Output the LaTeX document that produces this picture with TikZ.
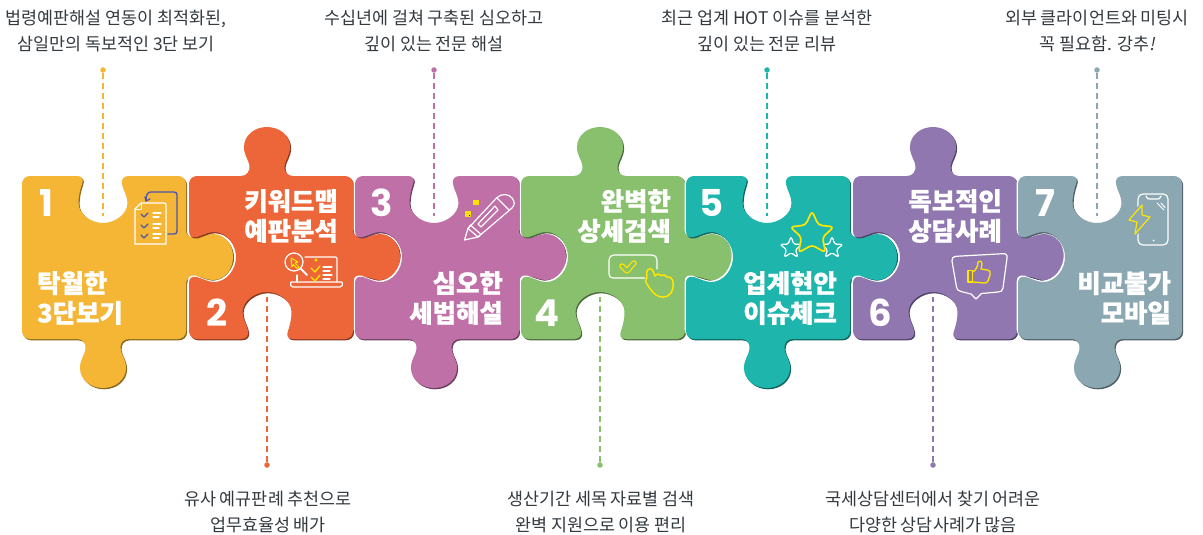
\documentclass[tikz,border=0pt]{standalone}
\usepackage{fontspec}
\setmainfont{Noto Sans CJK KR}
\newfontfamily\capfont{Noto Sans CJK KR}
\newfontfamily\capslant{Noto Sans CJK KR}[FakeSlant=0.2]
\newfontfamily\headfont{Noto Sans CJK KR}[BoldFeatures={FakeBold=0.9}]
\newfontfamily\numfont{Poppins}
\definecolor{c1}{HTML}{F5B535}\definecolor{s1}{HTML}{8A6A20}
\definecolor{c2}{HTML}{EC6639}\definecolor{s2}{HTML}{8A3A20}
\definecolor{c3}{HTML}{BF70A7}\definecolor{s3}{HTML}{6B3F60}
\definecolor{c4}{HTML}{88C06E}\definecolor{s4}{HTML}{4D6B3E}
\definecolor{c5}{HTML}{1DB5AC}\definecolor{s5}{HTML}{0F665F}
\definecolor{c6}{HTML}{9077B0}\definecolor{s6}{HTML}{50436B}
\definecolor{c7}{HTML}{8BA7B1}\definecolor{s7}{HTML}{4F5F66}
\definecolor{docblue}{HTML}{4F55A8}
\definecolor{icony}{HTML}{FFE600}
\definecolor{captxt}{HTML}{333A40}
\def\pzW{164}\def\pzH{163}\def\cy{81}
% fragments: clockwise outline
\def\TopNotch{-- ({\cx-26},0) .. controls ({\cx-21},0) and ({\cx-19},3) .. ({\cx-21},8) .. controls ({\cx-23},14) and ({\cx-24.5},20) .. ({\cx-24.5},27) .. controls ({\cx-24.5},38) and ({\cx-12},47) .. ({\cx},47) .. controls ({\cx+12},47) and ({\cx+24.5},38) .. ({\cx+24.5},27) .. controls ({\cx+24.5},20) and ({\cx+20},14) .. ({\cx+19},8) .. controls ({\cx+18},3) and ({\cx+21},0) .. ({\cx+26},0)}
\def\TopTab{-- ({\cx-26},0) .. controls ({\cx-20},0) and ({\cx-17},-5) .. ({\cx-17.5},-10) .. controls ({\cx-18},-16) and ({\cx-23},-20) .. ({\cx-23},-29) .. controls ({\cx-23},-41) and ({\cx-12},-49) .. ({\cx},-49) .. controls ({\cx+12},-49) and ({\cx+23},-41) .. ({\cx+23},-29) .. controls ({\cx+23},-20) and ({\cx+18},-16) .. ({\cx+17.5},-10) .. controls ({\cx+17},-5) and ({\cx+20},0) .. ({\cx+26},0)}
\def\RightTab{-- (\pzW,{\cy-26}) .. controls (\pzW,{\cy-22}) and ({\pzW+4},{\cy-19}) .. ({\pzW+11},{\cy-19.5}) .. controls ({\pzW+17},{\cy-20}) and ({\pzW+21},{\cy-23}) .. ({\pzW+27},{\cy-23}) .. controls ({\pzW+39},{\cy-23}) and ({\pzW+47},{\cy-12}) .. ({\pzW+47},{\cy}) .. controls ({\pzW+47},{\cy+12}) and ({\pzW+39},{\cy+23}) .. ({\pzW+27},{\cy+23}) .. controls ({\pzW+21},{\cy+23}) and ({\pzW+17},{\cy+20}) .. ({\pzW+11},{\cy+19.5}) .. controls ({\pzW+4},{\cy+19}) and (\pzW,{\cy+22}) .. (\pzW,{\cy+26})}
\def\RightFlat{}
\def\BotTab{-- ({\cx+26},\pzH) .. controls ({\cx+20},\pzH) and ({\cx+17},{\pzH+4}) .. ({\cx+17.5},{\pzH+10}) .. controls ({\cx+18},{\pzH+16}) and ({\cx+23},{\pzH+20}) .. ({\cx+23},{\pzH+29}) .. controls ({\cx+23},{\pzH+41}) and ({\cx+12},{\pzH+49}) .. ({\cx},{\pzH+49}) .. controls ({\cx-12},{\pzH+49}) and ({\cx-23},{\pzH+41}) .. ({\cx-23},{\pzH+29}) .. controls ({\cx-23},{\pzH+20}) and ({\cx-18},{\pzH+16}) .. ({\cx-17.5},{\pzH+10}) .. controls ({\cx-17},{\pzH+4}) and ({\cx-20},\pzH) .. ({\cx-26},\pzH)}
\def\BotNotch{-- ({\cx+26},\pzH) .. controls ({\cx+21},\pzH) and ({\cx+19},{\pzH-3}) .. ({\cx+21},{\pzH-8}) .. controls ({\cx+23},{\pzH-14}) and ({\cx+24.5},{\pzH-20}) .. ({\cx+24.5},{\pzH-27}) .. controls ({\cx+24.5},{\pzH-38}) and ({\cx+12},{\pzH-47}) .. ({\cx},{\pzH-47}) .. controls ({\cx-12},{\pzH-47}) and ({\cx-24.5},{\pzH-38}) .. ({\cx-24.5},{\pzH-27}) .. controls ({\cx-24.5},{\pzH-20}) and ({\cx-20},{\pzH-14}) .. ({\cx-19},{\pzH-8}) .. controls ({\cx-18},{\pzH-3}) and ({\cx-21},\pzH) .. ({\cx-26},\pzH)}
\def\LeftNotch{-- (0,{\cy+26}) .. controls (0,{\cy+21}) and (3,{\cy+19}) .. (8,{\cy+20}) .. controls (14,{\cy+22}) and (20,{\cy+25}) .. (25,{\cy+25}) .. controls (38,{\cy+25}) and (47,{\cy+12}) .. (47,{\cy}) .. controls (47,{\cy-12}) and (38,{\cy-25}) .. (25,{\cy-25}) .. controls (20,{\cy-25}) and (14,{\cy-22}) .. (8,{\cy-20}) .. controls (3,{\cy-19}) and (0,{\cy-21}) .. (0,{\cy-26})}
\def\LeftFlat{}
\def\PzOutline#1#2#3#4{(8,0) #1 -- ({\pzW-8},0) .. controls ({\pzW-3.5},0) and (\pzW,3.5) .. (\pzW,8) #2 -- (\pzW,{\pzH-8}) .. controls (\pzW,{\pzH-3.5}) and ({\pzW-3.5},\pzH) .. ({\pzW-8},\pzH) #3 -- (8,\pzH) .. controls (3.5,\pzH) and (0,{\pzH-3.5}) .. (0,{\pzH-8}) #4 -- (0,8) .. controls (0,3.5) and (3.5,0) .. (8,0) -- cycle}
% \Piece{x0}{cx}{index}{top}{right}{bottom}{left}
\newcommand\Piece[7]{%
  \begin{scope}[shift={(#1,176)}]
    \def\cx{#2}%
    \fill[white,xshift=-1.3pt,yshift=1.3pt] \PzOutline{#4}{#5}{#6}{#7};
    \fill[s#3,xshift=1.1pt,yshift=-1.3pt] \PzOutline{#4}{#5}{#6}{#7};
    \fill[c#3] \PzOutline{#4}{#5}{#6}{#7};
  \end{scope}}
\tikzset{
  captext/.style={font=\capfont\fontsize{17.4}{25.4}\selectfont,text=captxt,align=center,inner sep=0pt},
  headtext/.style={font=\headfont\bfseries\fontsize{25.4}{29.8}\selectfont,text=white,inner sep=0pt},
  numtext/.style={font=\numfont\bfseries\fontsize{37}{37}\selectfont,text=white,inner sep=0pt},
  pindot/.style={circle,inner sep=0pt,minimum size=5.5pt},
  leader/.style={line width=1.1pt,dash pattern=on 6pt off 4pt},
  iconw/.style={draw=white,line width=1.2pt,line join=round,line cap=round},
  icony/.style={draw=icony,line width=1.3pt,line join=round,line cap=round},
}
\begin{document}
\begin{tikzpicture}[x=1pt,y=-1pt]
\useasboundingbox (0,0) rectangle (1203,535);
\fill[white] (0,0) rectangle (1203,535);
\Piece{22}{81}{1}{\TopNotch}{\RightTab}{\BotTab}{\LeftFlat}
\Piece{189}{78}{2}{\TopTab}{\RightTab}{\BotNotch}{\LeftNotch}
\Piece{355}{79}{3}{\TopNotch}{\RightTab}{\BotTab}{\LeftNotch}
\Piece{521}{79}{4}{\TopTab}{\RightTab}{\BotNotch}{\LeftNotch}
\Piece{686}{81}{5}{\TopNotch}{\RightTab}{\BotTab}{\LeftNotch}
\Piece{853}{80}{6}{\TopTab}{\RightTab}{\BotNotch}{\LeftNotch}
\Piece{1018}{79}{7}{\TopNotch}{\RightFlat}{\BotTab}{\LeftNotch}

% leaders
\node[pindot,fill=c1] (d1) at (103,70) {};
\coordinate (e1) at (103,216);
\draw[leader,draw=c1] (d1) -- (e1);
\node[pindot,fill=c2] (d2) at (267,465) {};
\coordinate (e2) at (267,297);
\draw[leader,draw=c2] (d2) -- (e2);
\node[pindot,fill=c3] (d3) at (434,70) {};
\coordinate (e3) at (434,216);
\draw[leader,draw=c3] (d3) -- (e3);
\node[pindot,fill=c4] (d4) at (600,465) {};
\coordinate (e4) at (600,297);
\draw[leader,draw=c4] (d4) -- (e4);
\node[pindot,fill=c5] (d5) at (767,70) {};
\coordinate (e5) at (767,216);
\draw[leader,draw=c5] (d5) -- (e5);
\node[pindot,fill=c6] (d6) at (933,465) {};
\coordinate (e6) at (933,297);
\draw[leader,draw=c6] (d6) -- (e6);
\node[pindot,fill=c7] (d7) at (1097,70) {};
\coordinate (e7) at (1097,216);
\draw[leader,draw=c7] (d7) -- (e7);

% captions
\node[captext] (t1) at (116,31) {법령예판해설 연동이 최적화된,\\삼일만의 독보적인 3단 보기};
\node[captext] (t2) at (268,512) {유사 예규판례 추천으로\\업무효율성 배가};
\node[captext] (t3) at (434,31) {수십년에 걸쳐 구축된 심오하고\\깊이 있는 전문 해설};
\node[captext] (t4) at (601,512) {생산기간 세목 자료별 검색\\완벽 지원으로 이용 편리};
\node[captext] (t5) at (767,31) {최근 업계 HOT 이슈를 분석한\\깊이 있는 전문 리뷰};
\node[captext] (t6) at (933,512) {국세상담센터에서 찾기 어려운\\다양한 상담사례가 많음};
\node[captext] (t7) at (1097,31) {외부 클라이언트와 미팅시\\꼭 필요함. 강추{\capslant !}};

% numbers
\node[numtext] (n1) at (46,203) {1};
\node[numtext] (n2) at (217,313) {2};
\node[numtext] (n3) at (382,203) {3};
\node[numtext] (n4) at (547,313) {4};
\node[numtext] (n5) at (712,203) {5};
\node[numtext] (n6) at (880,313) {6};
\node[numtext] (n7) at (1045,203) {7};

% piece headings
\node[headtext,align=left,anchor=west] (h1) at (37,298) {탁월한\\3단보기};
\node[headtext,align=right,anchor=east] (h2) at (338,216) {키워드맵\\예판분석};
\node[headtext,align=right,anchor=east] (h3) at (503,298) {심오한\\세법해설};
\node[headtext,align=right,anchor=east] (h4) at (671,216) {완벽한\\상세검색};
\node[headtext,align=right,anchor=east] (h5) at (837,298) {업계현안\\이슈체크};
\node[headtext,align=right,anchor=east] (h6) at (1002,216) {독보적인\\상담사례};
\node[headtext,align=right,anchor=east] (h7) at (1171,298) {비교불가\\모바일};

% icon 1: documents
\draw[draw=docblue,line width=1.3pt,line join=round,line cap=round] (146,200) .. controls (146,194) and (148,192) .. (151,192) -- (174,192) .. controls (176,192) and (177,193) .. (177,195) -- (177,231) .. controls (177,233) and (176,234) .. (174,234) -- (168,234);
\draw[draw=docblue,line width=1.3pt,line cap=round] (145,197) -- (146,201) -- (150,199);
\draw[iconw] (141,203) -- (164,203) .. controls (165.5,203) and (166,203.5) .. (166,205) -- (166,244) -- (135,244) -- (135,209) -- cycle;
\draw[iconw,line width=0.9pt] (135,209) -- (141,209) -- (141,203);
\foreach \yy in {216,227,237}{
  \draw[draw=docblue,line width=1.3pt,line cap=round,line join=round] (141,\yy-2) -- (144,\yy+1) -- (148,\yy-3);
  \draw[iconw] (153,\yy-3) -- (161,\yy-3);
  \draw[iconw] (153,\yy+1) -- (159,\yy+1);
}

% icon 2: magnifier on laptop
\draw[iconw] (305,257) -- (335,257) .. controls (336.5,257) and (337,257.5) .. (337,259) -- (337,282);
\draw[iconw] (297,275) -- (297,282);
\draw[iconw] (291,282) -- (342,282) .. controls (343,285) and (342,287) .. (340,287) -- (293,287) .. controls (291,287) and (290,285) .. (291,282) -- cycle;
\draw[iconw] (294,262) circle[radius=9];
\draw[iconw,line width=2pt] (301,269) -- (307,275);
\draw[icony,line width=1pt] (291,258) -- (298,262) -- (295,263) -- (299,267) -- (297,268.5) -- (293.5,264.5) -- (292,267) -- cycle;
\fill[icony] (316,260) circle[radius=1];
\draw[icony] (311,268) -- (315,272) -- (320,266);
\draw[icony] (311,277) -- (315,281) -- (320,275);
\draw[iconw] (323,267) -- (332,267);\draw[iconw] (323,271) -- (330,271);
\draw[iconw] (323,275) -- (332,275);\draw[iconw] (323,279) -- (330,279);

% icon 3: pencil
\draw[iconw] (464.5,240) -- (468,228.5) -- (497,197.5) .. controls (502,193) and (509,194) .. (512,198) .. controls (515,202) and (515,205) .. (512,208) -- (478,237) -- cycle;
\draw[iconw] (468,228.5) -- (470.5,225) -- (481,234.5) -- (478,237);
\draw[iconw] (468,228.5) -- (478,237);
\draw[iconw] (497,198) -- (509,210);
\draw[iconw,line join=round] (478,224) -- (495,206) -- (498,210) -- (481,227) -- cycle;
\foreach \dx/\dy in {0/0,2.6/0,0/2.6,2.6/2.6}{
  \fill[icony] (474+\dx,200.5+\dy) rectangle (475.6+\dx,202.1+\dy);
  \fill[icony] (466+\dx,212+\dy) rectangle (467.6+\dx,213.6+\dy);
}

% icon 4: checkbox and hand
\draw[iconw] (645,278) -- (613,278) .. controls (610,278) and (609,276) .. (609,274) -- (609,260) .. controls (609,257) and (611,255) .. (614,255) -- (652,255) .. controls (655,255) and (657,257) .. (657,260) -- (657,269);
\draw[draw=icony,line width=5.5pt,line cap=round,line join=round] (622,266) -- (627,271) -- (634,263);
\draw[draw=c4,line width=3pt,line cap=round,line join=round] (622,266) -- (627,271) -- (634,263);
\draw[icony,line width=1.5pt,fill=c4] (645.5,281) .. controls (648,278) and (646,274) .. (647,271) .. controls (648,268) and (652,268) .. (653,271) -- (655,276) .. controls (657,273) and (660,274) .. (661,275.5) .. controls (663,274) and (666,275) .. (667,277) .. controls (669,276) and (672,278) .. (672.5,280) .. controls (674,285) and (673,291) .. (670,294) .. controls (667,298) and (660,298) .. (656,295) .. controls (652,292) and (647,285) .. (645.5,281) -- cycle;

% icon 5: stars
\foreach \sx in {791,832}{
  \draw[iconw,rounded corners=1.5pt] (\sx+0,236.5)
    \foreach \ang/\rr in {-54/4.8,-18/11.5,18/4.8,54/11.5,90/4.8,126/11.5,162/4.8,198/11.5,234/4.8}{ -- ({\sx+\rr*cos(\ang)},{248+\rr*sin(\ang)}) } -- cycle;
}
\draw[icony,line width=1.7pt,fill=c5,rounded corners=3.5pt] (812,211)
  \foreach \ang/\rr in {-54/11,-18/23,18/11,54/23,90/11,126/23,162/11,198/23,234/11}{ -- ({812+\rr*cos(\ang)},{234+\rr*sin(\ang)}) } -- cycle;

% icon 6: speech bubble with thumb
\draw[iconw] (956,256.3) -- (1003,253.7) .. controls (1006,253.5) and (1007.5,255) .. (1007,258) -- (1003,288) .. controls (1002.5,291) and (1001,292) .. (998,292) -- (981.5,293.5) -- (976,299) -- (971,294) -- (961,291.5) .. controls (958,291) and (957,289.5) .. (956.5,287) -- (952,261) .. controls (951.5,258) and (953,256.5) .. (956,256.3) -- cycle;
\draw[icony] (968,270.5) rectangle (972.5,282);
\draw[icony] (973,272) .. controls (976,270) and (978,266) .. (978,262) .. controls (979,260) and (982,261) .. (982,264) .. controls (982,266) and (981,268) .. (981,269) -- (987,270) .. controls (990,270) and (991,273) .. (990,275) -- (988,281) .. controls (987,283) and (986,283) .. (984,283) -- (973,282);

% icon 7: phone and lightning
\draw[iconw] (1143,194) -- (1163,194) .. controls (1166,194) and (1168,196) .. (1168,199) -- (1168,240) .. controls (1168,243) and (1166,245) .. (1163,245) -- (1143,245) .. controls (1140,245) and (1138,243) .. (1138,240) -- (1138,199) .. controls (1138,196) and (1140,194) .. (1143,194) -- cycle;
\draw[iconw] (1146,196) .. controls (1147,199) and (1148,199) .. (1150,199) -- (1157,199) .. controls (1159,199) and (1160,199) .. (1161,196);
\fill[white] (1153.5,240.5) circle[radius=1];
\draw[iconw,line width=1pt] (1157,203) -- (1164,210);
\draw[iconw,line width=1pt] (1161,203) -- (1165,207.5);
\draw[draw=c7,line width=4pt,line join=round,fill=c7] (1142,205) -- (1129,220) -- (1137,222) -- (1135,234) -- (1150,217) -- (1142,215) -- cycle;
\draw[icony,line width=1.2pt] (1142,205) -- (1129,220) -- (1137,222) -- (1135,234) -- (1150,217) -- (1142,215) -- cycle;
\end{tikzpicture}
\end{document}
